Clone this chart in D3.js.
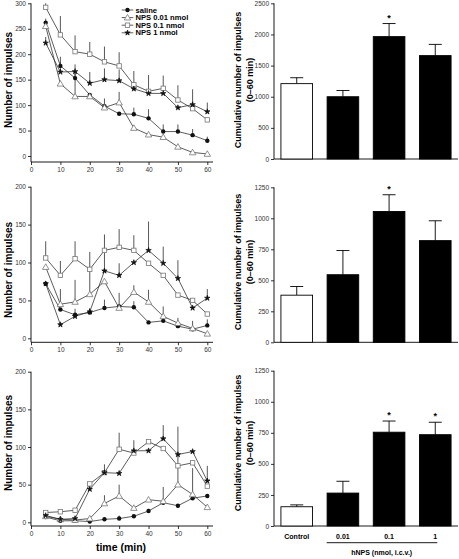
<!DOCTYPE html>
<html><head><meta charset="utf-8">
<script src="https://cdn.jsdelivr.net/npm/d3@7"></script>
<style>body{margin:0;background:#fff} svg text{font-family:Arial,"Liberation Sans",sans-serif}</style>
</head><body><svg id="c" width="459" height="559"></svg>
<script>
// ---------- data ----------
const times=[5,10,15,20,25,30,35,40,45,50,55,60];
const seriesNames=["saline","NPS 0.01 nmol","NPS 0.1 nmol","NPS 1 nmol"];
const seriesMarkers=["circle","triangle","square","star"];

// panel A (top)
const salineA=[262,177,153,120,98,83,82,74,48,48,41,30];
const salineAErr=[8,18,12,0,15,0,13,18,14,14,12,8];
const nps001A=[255,142,117,117,95,105,55,42,37,18,7,4];
const nps001AErr=[0,0,48,0,0,21,0,0,0,0,0,0];
const nps01A=[292,238,205,200,185,177,140,127,133,110,93,71];
const nps01AErr=[8,37,32,24,30,27,27,32,25,29,0,0];
const nps1A=[222,165,166,143,150,148,132,123,123,95,101,87];
const nps1AErr=[12,20,14,22,22,22,10,0,0,0,30,18];

// panel B (middle)
const salineB=[72,38,31,34,40,42,41,21,23,16,12,17];
const salineBErr=[0,0,8,6,11,0,8,0,19,11,11,8];
const nps001B=[94,45,48,58,75,40,61,48,29,20,13,6];
const nps001BErr=[0,20,29,33,0,20,9,16,0,0,0,0];
const nps01B=[106,83,105,91,116,120,116,99,83,57,50,32];
const nps01BErr=[22,19,23,23,21,24,20,0,0,0,0,0];
const nps1B=[72,18,29,35,89,83,100,116,99,79,40,53];
const nps1BErr=[0,0,0,0,30,16,0,38,22,24,0,12];

// panel C (bottom)
const salineC=[7,2,2,1,4,5,8,15,26,22,32,35];
const salineCErr=[0,0,0,0,0,4,0,0,0,0,0,0];
const nps001C=[8,4,3,5,25,35,19,30,28,50,37,20];
const nps001CErr=[0,0,0,0,11,15,0,0,19,77,35,0];
const nps01C=[13,14,16,51,66,97,92,107,98,75,79,48];
const nps01CErr=[0,0,0,0,0,22,0,0,0,0,0,0];
const nps1C=[9,4,5,44,66,65,95,95,111,90,94,55];
const nps1CErr=[0,0,0,0,11,0,14,0,18,0,0,20];

const xTicks=[0,10,20,30,40,50,60];
const yTicksA=[0,50,100,150,200,250,300];
const yTicksBC=[0,50,100,150,200];

// bar panels
const barCats=["Control","0.01","0.1","1"];
const cumA=[1210,1000,1965,1660], cumAErr=[95,100,210,180], sigA=[0,0,1,0];
const cumB=[380,545,1055,820],   cumBErr=[70,195,135,160], sigB=[0,0,1,0];
const cumC=[155,265,755,735],    cumCErr=[15,95,90,100],   sigC=[0,0,1,1];
const barTicksA=[0,500,1000,1500,2000,2500];
const barTicksBC=[0,250,500,750,1000,1250];

// ---------- drawing ----------
const svg=d3.select("#c");
const FONT='Arial,"Liberation Sans",sans-serif';

function styleAxis(g){
  g.attr("font-family",FONT).attr("font-size",6.5);
  g.selectAll(".tick line").attr("stroke","#000").attr("stroke-width",0.8);
  g.selectAll(".tick text").attr("fill","#333");
}

function drawMarker(g,type,cx,cy){
  if(type==="circle") g.append("circle").attr("cx",cx).attr("cy",cy).attr("r",2.2).attr("fill","#111");
  else if(type==="square") g.append("rect").attr("x",cx-2.2).attr("y",cy-2.2).attr("width",4.4).attr("height",4.4).attr("fill","#fff").attr("stroke","#777").attr("stroke-width",0.8);
  else if(type==="triangle") g.append("path").attr("d",d3.symbol(d3.symbolTriangle,18)()).attr("transform",`translate(${cx},${cy+0.5})`).attr("fill","#fff").attr("stroke","#777").attr("stroke-width",0.8);
  else g.append("path").attr("d",d3.symbol(d3.symbolStar,9)()).attr("transform",`translate(${cx},${cy})`).attr("fill","#111").attr("stroke","#111").attr("stroke-width",0.7);
}

function linePanel(p){
  const x=d3.scaleLinear().domain([0,60]).range([31,207.3]);
  const y=d3.scaleLinear().domain([0,p.yMax]).range([p.y0,p.yTop]);
  const g=svg.append("g");
  const yg=g.append("g").attr("transform","translate(31,0)")
    .call(d3.axisLeft(y).tickValues(p.yTicks).tickSize(3).tickPadding(2).tickFormat(d3.format("d")));
  yg.select(".domain").remove(); styleAxis(yg);
  const xg=g.append("g").attr("transform",`translate(0,${p.axisY})`)
    .call(d3.axisBottom(x).tickValues(xTicks).tickSize(3).tickPadding(2).tickFormat(d3.format("d")));
  xg.select(".domain").remove(); styleAxis(xg);
  g.append("line").attr("x1",31).attr("x2",31).attr("y1",p.yTop).attr("y2",p.axisY).attr("stroke","#000").attr("stroke-width",0.9);
  g.append("line").attr("x1",31).attr("x2",213).attr("y1",p.axisY).attr("y2",p.axisY).attr("stroke","#000").attr("stroke-width",0.9);
  g.append("text").attr("transform",`translate(12,${p.labelY}) rotate(-90)`).attr("text-anchor","middle")
    .attr("font-size",10).attr("font-weight","bold").text("Number of impulses");
  p.series.forEach(s=>{
    s.vals.forEach((v,i)=>{ if(s.err[i]>0) g.append("line").attr("x1",x(times[i])).attr("x2",x(times[i]))
      .attr("y1",y(v)).attr("y2",y(v+s.err[i])).attr("stroke","#444").attr("stroke-width",0.9); });
  });
  const line=d3.line().x((d,i)=>x(times[i])).y(d=>y(d));
  p.series.forEach(s=>{
    g.append("path").attr("d",line(s.vals)).attr("fill","none").attr("stroke","#333").attr("stroke-width",0.8);
  });
  p.series.forEach(s=>{ s.vals.forEach((v,i)=>drawMarker(g,s.marker,x(times[i]),y(v))); });
  return {x,y,g};
}

function barPanel(p){
  const x=d3.scaleBand().domain(barCats).range([274,458]).paddingInner(0.315).paddingOuter(0.15);
  const y=d3.scaleLinear().domain([0,p.yMax]).range([p.y0,p.yTop]);
  const g=svg.append("g");
  const yg=g.append("g").attr("transform","translate(274,0)")
    .call(d3.axisLeft(y).tickValues(p.yTicks).tickSize(3).tickPadding(2).tickFormat(d3.format("d")));
  yg.select(".domain").remove(); styleAxis(yg);
  g.append("line").attr("x1",274).attr("x2",274).attr("y1",p.yTop).attr("y2",p.y0).attr("stroke","#000").attr("stroke-width",0.9);
  g.append("line").attr("x1",274).attr("x2",458).attr("y1",p.y0).attr("y2",p.y0).attr("stroke","#000").attr("stroke-width",0.9);
  const lt=g.append("text").attr("transform",`translate(241,${p.labelY}) rotate(-90)`).attr("text-anchor","middle")
    .attr("font-size",9).attr("font-weight","bold");
  lt.append("tspan").attr("x",0).attr("dy",0).text("Cumulative number of impulses");
  lt.append("tspan").attr("x",0).attr("dy",11.5).text("(0\u201360 min)");
  p.vals.forEach((v,i)=>{
    const c=barCats[i], cx=x(c)+x.bandwidth()/2, top=y(v+p.err[i]);
    g.append("line").attr("x1",cx).attr("x2",cx).attr("y1",y(v)).attr("y2",top).attr("stroke","#000").attr("stroke-width",0.9);
    g.append("line").attr("x1",cx-6.5).attr("x2",cx+6.5).attr("y1",top).attr("y2",top).attr("stroke","#000").attr("stroke-width",0.9);
    g.append("rect").attr("x",x(c)).attr("y",y(v)).attr("width",x.bandwidth()).attr("height",p.y0-y(v))
      .attr("fill",i===0?"#fff":"#000").attr("stroke","#000").attr("stroke-width",0.9);
    if(p.sig[i]) g.append("text").attr("x",cx).attr("y",top-3).attr("text-anchor","middle").attr("font-size",9).attr("font-weight","bold").text("*");
  });
  return {x,y,g};
}

function mkSeries(vals,errs){ return vals.map((v,i)=>({vals:v,err:errs[i],marker:seriesMarkers[i]})); }

linePanel({yMax:300,yTicks:yTicksA,y0:156,yTop:3.3,axisY:162,labelY:80,
  series:mkSeries([salineA,nps001A,nps01A,nps1A],[salineAErr,nps001AErr,nps01AErr,nps1AErr])});
linePanel({yMax:200,yTicks:yTicksBC,y0:338.3,yTop:186.7,axisY:342.3,labelY:270,
  series:mkSeries([salineB,nps001B,nps01B,nps1B],[salineBErr,nps001BErr,nps01BErr,nps1BErr])});
const C=linePanel({yMax:200,yTicks:yTicksBC,y0:522.3,yTop:371.7,axisY:526,labelY:443,
  series:mkSeries([salineC,nps001C,nps01C,nps1C],[salineCErr,nps001CErr,nps01CErr,nps1CErr])});
C.g.append("text").attr("x",121).attr("y",551).attr("text-anchor","middle").attr("font-size",10.5).attr("font-weight","bold").text("time (min)");

// legend
const leg=svg.append("g");
seriesNames.forEach((n,i)=>{
  const ly=10+i*7.6;
  leg.append("line").attr("x1",121.7).attr("x2",133.3).attr("y1",ly).attr("y2",ly).attr("stroke","#333").attr("stroke-width",0.8);
  drawMarker(leg,seriesMarkers[i],127.5,ly);
  leg.append("text").attr("x",135.5).attr("y",ly+2.6).attr("font-size",7.6).attr("font-weight","bold").text(n);
});

barPanel({yMax:2500,yTicks:barTicksA,y0:159,yTop:3.3,labelY:80,vals:cumA,err:cumAErr,sig:sigA});
barPanel({yMax:1250,yTicks:barTicksBC,y0:342.3,yTop:187.3,labelY:262,vals:cumB,err:cumBErr,sig:sigB});
const BC=barPanel({yMax:1250,yTicks:barTicksBC,y0:526,yTop:370.7,labelY:443,vals:cumC,err:cumCErr,sig:sigC});
barCats.forEach(c=>{
  BC.g.append("text").attr("x",BC.x(c)+BC.x.bandwidth()/2).attr("y",539).attr("text-anchor","middle")
    .attr("font-size",7).attr("font-weight","bold").text(c);
});
BC.g.append("line").attr("x1",326.7).attr("x2",437.3).attr("y1",542.7).attr("y2",542.7).attr("stroke","#000").attr("stroke-width",0.9);
BC.g.append("text").attr("x",381.7).attr("y",555).attr("text-anchor","middle").attr("font-size",7).attr("font-weight","bold").text("hNPS (nmol, i.c.v.)");
</script></body></html>
